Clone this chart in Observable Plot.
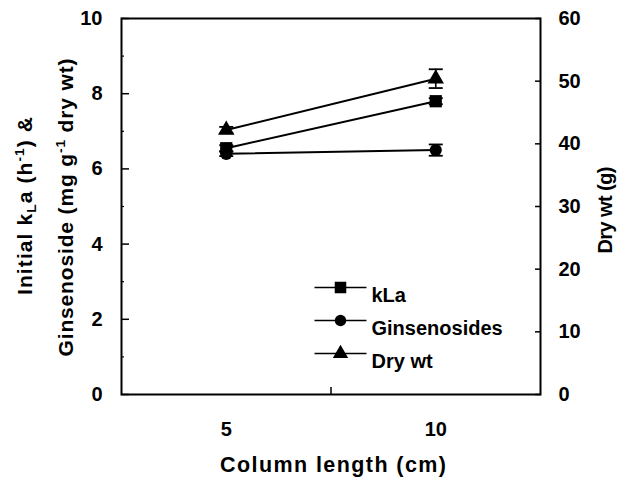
<!DOCTYPE html>
<html><head><meta charset="utf-8">
<script src="https://cdn.jsdelivr.net/npm/d3@7"></script>
<script src="https://cdn.jsdelivr.net/npm/@observablehq/plot@0.6"></script>
<style>
body{margin:0;background:#fff}
#chart svg{font-family:"Liberation Sans",Arial,Helvetica,sans-serif;font-weight:bold}
</style>
</head><body><div id="chart"></div>
<script>
// ---- data ----
const columnLength = [5, 10];
const kLa = [6.55, 7.8];
const kLaErr = [0.08, 0.08];
const ginsenosides = [6.4, 6.5];
const ginsenosidesErr = [0.06, 0.15];
const dryWt = [42.2, 50.4];
const dryWtErr = [0.5, 1.5];
const seriesNames = ["kLa", "Ginsenosides", "Dry wt"];
const seriesSymbols = ["square", "circle", "triangle"];
const leftTicks = [0, 2, 4, 6, 8, 10];
const leftMinorTicks = [1, 3, 5, 7, 9];
const rightTicks = [0, 10, 20, 30, 40, 50, 60];
const xTicks = [5, 10];
const xMinorTicks = [7.5];
const xTitle = "Column length (cm)";
const rightTitle = "Dry wt (g)";
const leftTitle1 = [["Initial k", ""], ["L", "sub"], ["a (h", ""], ["-1", "sup"], [") &", ""]];
const leftTitle2 = [["Ginsenoside (mg g", ""], ["-1", "sup"], [" dry wt)", ""]];

// ---- build table ----
const ratio = rightTicks[rightTicks.length - 1] / leftTicks[leftTicks.length - 1];
const series = [
  {name: seriesNames[0], vals: kLa, errs: kLaErr, k: 1},
  {name: seriesNames[1], vals: ginsenosides, errs: ginsenosidesErr, k: 1},
  {name: seriesNames[2], vals: dryWt, errs: dryWtErr, k: 1 / ratio}
];
const data = series.flatMap(s => columnLength.map((x, i) => ({
  series: s.name, x,
  y: s.vals[i] * s.k,
  lo: (s.vals[i] - s.errs[i]) * s.k,
  hi: (s.vals[i] + s.errs[i]) * s.k
})));

const markerR = {square: 6.9, circle: 6.1, triangle: 6.1};
const hbar = w => ({draw(ctx) { ctx.moveTo(-w, 0); ctx.lineTo(w, 0); }});

const dataDots = seriesNames.map((name, i) =>
  Plot.dot(data.filter(d => d.series === name), {x: "x", y: "y", symbol: seriesSymbols[i], r: markerR[seriesSymbols[i]], fill: "black", stroke: "none"}));

const legendMarks = seriesNames.flatMap((name, i) => {
  const dy = 269 + 33 * i;
  return [
    Plot.dot([name], {frameAnchor: "top-left", dx: 219, dy, symbol: hbar(26), stroke: "black", strokeWidth: 1.6, fill: "none"}),
    Plot.dot([name], {frameAnchor: "top-left", dx: 219, dy, symbol: seriesSymbols[i], r: markerR[seriesSymbols[i]] - 0.4, fill: "black", stroke: "none"}),
    Plot.text([name], {frameAnchor: "top-left", dx: 250, dy, text: d => d, textAnchor: "start", fontSize: 20, fontWeight: "bold"})
  ];
});

const plot = Plot.plot({
  width: 627, height: 480,
  marginLeft: 121, marginRight: 87, marginTop: 18, marginBottom: 86,
  x: {domain: [2.5, 12.5], label: null},
  y: {domain: [0, 10], label: null},
  style: {fontFamily: '"Liberation Sans", Arial, sans-serif', fontWeight: "bold", color: "black", background: "white"},
  marks: [
    Plot.axisY({ticks: leftTicks, tickSize: -8, text: null, strokeWidth: 1.5}),
    Plot.axisY({ticks: leftMinorTicks, tickSize: -3, text: null, strokeWidth: 1.2}),
    Plot.axisY({ticks: leftTicks, tickSize: 0, tickPadding: 19, fontSize: 20, label: null}),
    Plot.axisY({anchor: "right", ticks: rightTicks.map(v => v / ratio), tickSize: -6, text: null, strokeWidth: 1.5}),
    Plot.axisY({anchor: "right", ticks: rightTicks.map(v => v / ratio), tickFormat: d => Math.round(d * ratio), tickSize: 0, tickPadding: 18, fontSize: 20, label: null}),
    Plot.axisX({ticks: xMinorTicks, tickSize: -7, text: null, strokeWidth: 1.5}),
    Plot.axisX({ticks: xTicks, tickSize: 0, tickPadding: 27, fontSize: 20, label: null}),
    Plot.frame({stroke: "black", strokeWidth: 2}),
    Plot.ruleX(data, {x: "x", y1: "lo", y2: "hi", stroke: "black", strokeWidth: 1.6}),
    Plot.dot(data, {x: "x", y: "lo", symbol: hbar(7), stroke: "black", strokeWidth: 1.8, fill: "none"}),
    Plot.dot(data, {x: "x", y: "hi", symbol: hbar(7), stroke: "black", strokeWidth: 1.8, fill: "none"}),
    Plot.line(data, {x: "x", y: "y", z: "series", stroke: "black", strokeWidth: 2}),
    ...dataDots,
    ...legendMarks
  ]
});
document.getElementById("chart").appendChild(plot);

// ---- axis titles (rich text) ----
const svg = d3.select(plot);
function addTitle(parts, x, y, rotate, len, size) {
  const t = svg.append("text")
    .attr("transform", `translate(${x},${y}) rotate(${rotate})`)
    .attr("text-anchor", "middle")
    .attr("font-size", size)
    .attr("font-weight", "bold")
    .attr("fill", "black");
  if (len) t.attr("textLength", len).attr("lengthAdjust", "spacing");
  let shift = 0;
  parts.forEach(([s, kind]) => {
    const ts = t.append("tspan").text(s);
    let target = 0;
    if (kind === "sup") { ts.attr("font-size", size * 0.65); target = -size * 0.4; }
    if (kind === "sub") { ts.attr("font-size", size * 0.65); target = size * 0.2; }
    if (target !== shift) { ts.attr("dy", target - shift); shift = target; }
  });
  return t;
}
addTitle(leftTitle1, 32, 206, -90, 178, 21);
addTitle(leftTitle2, 73, 207.5, -90, 298, 21);
addTitle([[rightTitle, ""]], 612, 210, -90, 87, 20);
addTitle([[xTitle, ""]], 333, 472, 0, 226, 21.5);
</script>
</body></html>
